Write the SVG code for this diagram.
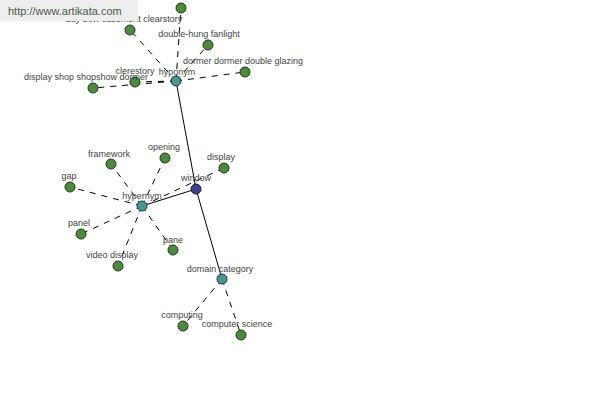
<svg xmlns="http://www.w3.org/2000/svg" width="600" height="400" viewBox="0 0 600 400">
<style>
.lbl{font-family:"Liberation Sans",Arial,sans-serif;font-size:9px;fill:#444;text-anchor:middle}
.leaf{fill:#4d8a3f;stroke:#1f3a1a;stroke-width:1}
.rel{fill:#4a9494;stroke:#1f3a3a;stroke-width:1}
.root{fill:#3c3f8c;stroke:#1a1a3a;stroke-width:1}
.solid{stroke:#000;stroke-width:1;fill:none}
.dash{stroke:#000;stroke-width:1;fill:none;stroke-dasharray:6,6}
</style>
<rect width="600" height="400" fill="#fff"/>
<g id="connectors">
<line class="solid" x1="196" y1="189" x2="176" y2="81"/>
<line class="solid" x1="196" y1="189" x2="142" y2="206"/>
<line class="solid" x1="196" y1="189" x2="222" y2="279"/>
<line class="dash" x1="176" y1="81" x2="181" y2="8"/>
<line class="dash" x1="176" y1="81" x2="130" y2="30"/>
<line class="dash" x1="176" y1="81" x2="208" y2="45"/>
<line class="dash" x1="176" y1="81" x2="245" y2="72"/>
<line class="dash" x1="176" y1="81" x2="135" y2="82"/>
<line class="dash" x1="176" y1="81" x2="93" y2="88"/>
<line class="dash" x1="142" y1="206" x2="111" y2="164"/>
<line class="dash" x1="142" y1="206" x2="165" y2="158"/>
<line class="dash" x1="142" y1="206" x2="70" y2="187"/>
<line class="dash" x1="142" y1="206" x2="81" y2="234"/>
<line class="dash" x1="142" y1="206" x2="118" y2="266"/>
<line class="dash" x1="142" y1="206" x2="173" y2="250"/>
<line class="dash" x1="142" y1="206" x2="224" y2="168"/>
<line class="dash" x1="222" y1="279" x2="183" y2="326"/>
<line class="dash" x1="222" y1="279" x2="241" y2="335"/>
</g>
<g id="n-clearstory"><circle class="leaf" cx="181" cy="8" r="5"/></g>
<g id="n-bay"><circle class="leaf" cx="130" cy="30" r="5"/><text class="lbl" x="124" y="22">bay bow casement clearstory</text></g>
<g id="n-doublehung"><circle class="leaf" cx="208" cy="45" r="5"/><text class="lbl" x="199" y="37">double-hung fanlight</text></g>
<g id="n-dormer"><circle class="leaf" cx="245" cy="72" r="5"/><text class="lbl" x="243" y="64">dormer dormer double glazing</text></g>
<g id="n-clerestory"><circle class="leaf" cx="135" cy="82" r="5"/><text class="lbl" x="135" y="74">clerestory</text></g>
<g id="n-displayshop"><circle class="leaf" cx="93" cy="88" r="5"/><text class="lbl" x="86" y="80">display shop shopshow dormer</text></g>
<g id="n-hyponym"><circle class="rel" cx="176" cy="81" r="5"/><text class="lbl" x="177" y="75">hyponym</text></g>
<g id="n-framework"><circle class="leaf" cx="111" cy="164" r="5"/><text class="lbl" x="109" y="157">framework</text></g>
<g id="n-opening"><circle class="leaf" cx="165" cy="158" r="5"/><text class="lbl" x="164" y="150">opening</text></g>
<g id="n-gap"><circle class="leaf" cx="70" cy="187" r="5"/><text class="lbl" x="69" y="179">gap</text></g>
<g id="n-panel"><circle class="leaf" cx="81" cy="234" r="5"/><text class="lbl" x="79" y="226">panel</text></g>
<g id="n-video"><circle class="leaf" cx="118" cy="266" r="5"/><text class="lbl" x="112" y="258">video display</text></g>
<g id="n-pane"><circle class="leaf" cx="173" cy="250" r="5"/><text class="lbl" x="173" y="243">pane</text></g>
<g id="n-display"><circle class="leaf" cx="224" cy="168" r="5"/><text class="lbl" x="221" y="160">display</text></g>
<g id="n-hypernym"><circle class="rel" cx="142" cy="206" r="5"/><text class="lbl" x="142" y="199">hypernym</text></g>
<g id="n-window"><circle class="root" cx="196" cy="189" r="5"/><text class="lbl" x="196" y="181">window</text></g>
<g id="n-domain"><circle class="rel" cx="222" cy="279" r="5"/><text class="lbl" x="220" y="272">domain category</text></g>
<g id="n-computing"><circle class="leaf" cx="183" cy="326" r="5"/><text class="lbl" x="182" y="318">computing</text></g>
<g id="n-cs"><circle class="leaf" cx="241" cy="335" r="5"/><text class="lbl" x="237" y="327">computer science</text></g>
<g id="watermark"><rect x="0" y="0" width="138" height="21" fill="#eeeeee"/><text x="8" y="15" font-family="Liberation Sans,Arial,sans-serif" font-size="11" fill="#4a5a4a">http://www.artikata.com</text></g>
</svg>
